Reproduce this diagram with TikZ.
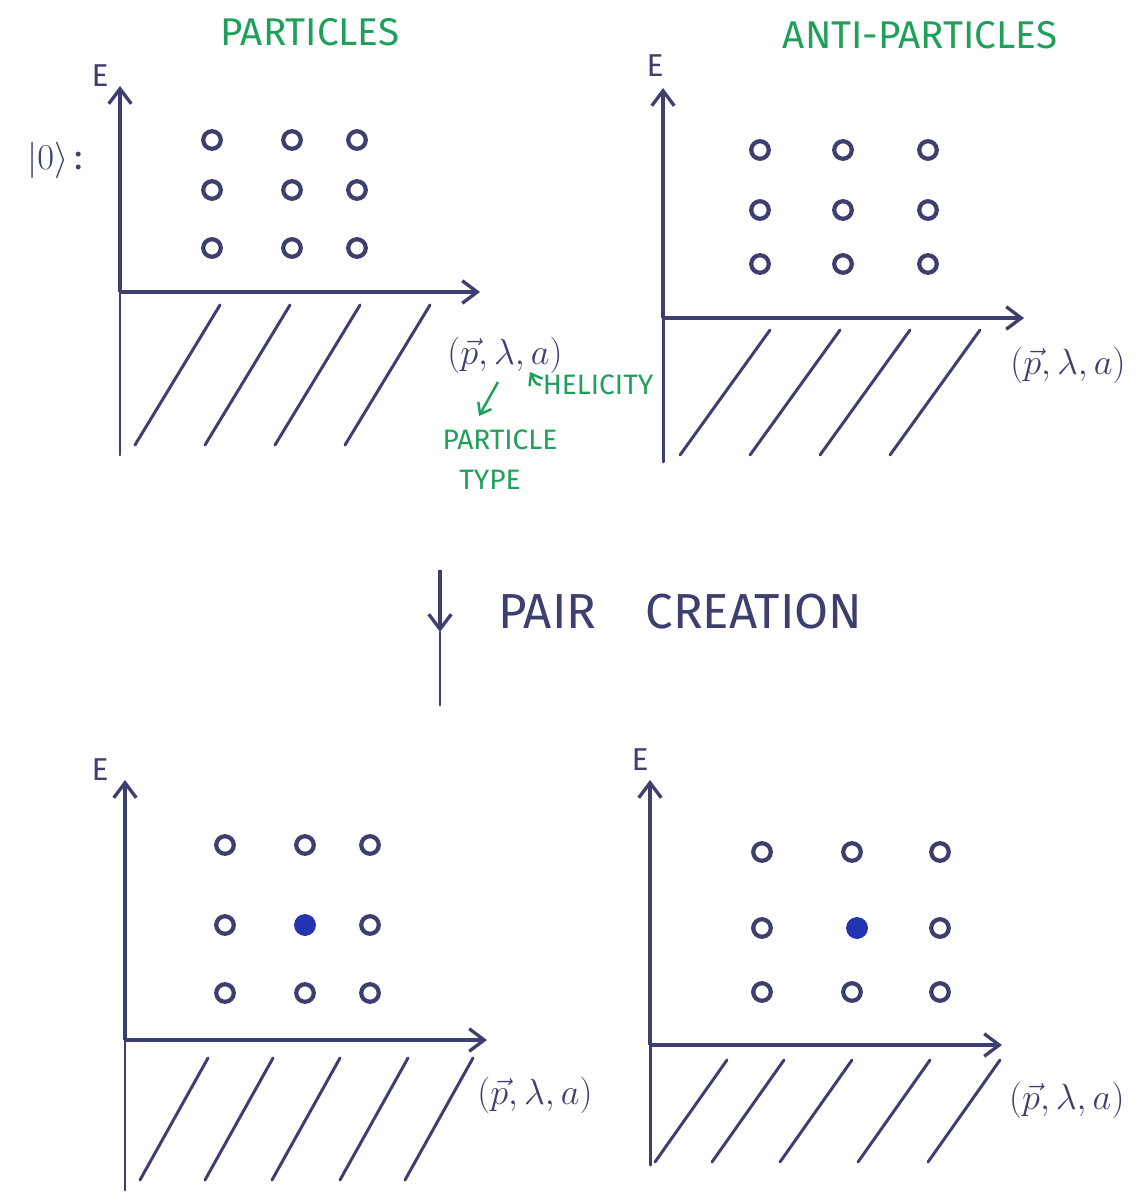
\documentclass[tikz,border=0pt]{standalone}
\usepackage{amsmath,amssymb}
\usepackage{fontspec}
\setmainfont{Fira Sans}
\usepackage{tikz}
\usetikzlibrary{arrows.meta,positioning,calc}
\definecolor{inkblue}{HTML}{3E3F6E}
\definecolor{dotblue}{HTML}{2433B0}
\definecolor{markgreen}{HTML}{1FA05A}
\tikzset{
  axisline/.style={
    draw=inkblue,
    line width=1.9pt,
    -{Straight Barb[length=3mm,width=4.5mm]}
  },
  hatchline/.style={
    draw=inkblue,
    line width=1.7pt,
    line cap=round
  },
  emptydot/.style={
    circle,
    draw=inkblue,
    line width=2.4pt,
    minimum size=10pt,
    inner sep=0pt
  },
  fulldot/.style={
    circle,
    draw=dotblue,
    fill=dotblue,
    minimum size=12pt,
    inner sep=0pt
  },
  titlelabel/.style={
    text=markgreen,
    font=\fontsize{22}{26}\selectfont
  },
  notelabel/.style={
    text=markgreen,
    font=\fontsize{16}{18}\selectfont,
    inner sep=1pt
  },
  inklabel/.style={
    text=inkblue,
    font=\fontsize{22}{26}\selectfont
  },
  notearrow/.style={draw=markgreen, line width=1.4pt, -{Straight Barb[length=2mm,width=3mm]}}
}

\begin{document}
\begin{tikzpicture}[x=0.02cm, y=-0.02cm]
  \useasboundingbox (0,0) rectangle (1139,1193);

  % titles
  \node[titlelabel] (tpart) at (310,32) {PARTICLES};
  \node[titlelabel] (tanti) at (920,35) {ANTI-PARTICLES};

  % panel 1 : particles
  \coordinate (oa) at (120,292);
  \coordinate (ba) at (120,455);
  \coordinate (ya) at (120,86);
  \coordinate (xa) at (480,292);
  \draw[hatchline] (ba) -- (oa);
  \draw[axisline] (oa) -- (ya);
  \draw[axisline] (oa) -- (xa);
  \node[inklabel,font=\fontsize{18}{20}\selectfont] (ea) at (100,76) {E};
  \node[inklabel,font=\fontsize{20}{24}\selectfont] (vac) at (55,160) {$|0\rangle$\,:};
  \node[inklabel] (la) at (505,355) {$(\vec{p},\lambda,a)$};
  \foreach \s in {135,205,275,345}
    \draw[hatchline] (\s,445) -- (\s+85,305);
  \foreach \x [count=\i] in {212,292,357}
    \foreach \y [count=\j] in {140,190,248}
      \node[emptydot] (pa-\i-\j) at (\x,\y) {};

  % notes on the labels
  \node[notelabel] (hel) at (598,385) {HELICITY};
  \node[notelabel] (ptype) at (500,440) {PARTICLE};
  \node[notelabel] (ptype2) at (490,480) {TYPE};
  \coordinate (nta) at (498,382);
  \coordinate (ntb) at (479,416);
  \draw[notearrow] (nta) -- (ntb);
  \coordinate (lam) at (530,372);
  \draw[notearrow] (hel.west) to[out=180,in=-60] (lam);

  % panel 2 : anti-particles
  \coordinate (ob) at (663,318);
  \coordinate (bb) at (663,462);
  \coordinate (yb) at (663,88);
  \coordinate (xb) at (1024,318);
  \draw[hatchline] (bb) -- (ob);
  \draw[axisline] (ob) -- (yb);
  \draw[axisline] (ob) -- (xb);
  \node[inklabel,font=\fontsize{18}{20}\selectfont] (eb) at (655,66) {E};
  \node[inklabel] (lb) at (1068,365) {$(\vec{p},\lambda,a)$};
  \foreach \s in {680,750,820,890}
    \draw[hatchline] (\s,455) -- (\s+90,330);
  \foreach \x [count=\i] in {760,843,928}
    \foreach \y [count=\j] in {150,210,264}
      \node[emptydot] (pb-\i-\j) at (\x,\y) {};

  % pair creation
  \coordinate (pctop) at (440,570);
  \coordinate (pcmid) at (440,632);
  \coordinate (pcbot) at (440,705);
  \draw[axisline] (pctop) -- (pcmid);
  \draw[hatchline] (pcmid) -- (pcbot);
  \node[inklabel,font=\fontsize{28}{32}\selectfont,anchor=west] (pc) at (492,612) {PAIR\quad CREATION};

  % panel 3
  \coordinate (oc) at (125,1040);
  \coordinate (bc) at (125,1190);
  \coordinate (yc) at (125,780);
  \coordinate (xc) at (487,1040);
  \draw[hatchline] (bc) -- (oc);
  \draw[axisline] (oc) -- (yc);
  \draw[axisline] (oc) -- (xc);
  \node[inklabel,font=\fontsize{18}{20}\selectfont] (ec) at (100,770) {E};
  \node[inklabel] (lc) at (535,1095) {$(\vec{p},\lambda,a)$};
  \foreach \s in {140,205,272,340,405}
    \draw[hatchline] (\s,1180) -- (\s+68,1058);
  \foreach \x/\y [count=\k] in {225/845,305/845,370/845,225/925,370/925,225/993,305/993,370/993}
    \node[emptydot] (pc-\k) at (\x,\y) {};
  \node[fulldot] (pc-mid) at (305,925) {};

  % panel 4
  \coordinate (od) at (650,1045);
  \coordinate (bd) at (650,1165);
  \coordinate (yd) at (650,780);
  \coordinate (xd) at (1002,1045);
  \draw[hatchline] (bd) -- (od);
  \draw[axisline] (od) -- (yd);
  \draw[axisline] (od) -- (xd);
  \node[inklabel,font=\fontsize{18}{20}\selectfont] (ed) at (640,760) {E};
  \node[inklabel,anchor=west] (ld) at (1003,1100) {$(\vec{p},\lambda,a)$};
  \foreach \s in {655,712,780,858,928}
    \draw[hatchline] (\s,1162) -- (\s+72,1060);
  \foreach \x/\y [count=\k] in {762/852,852/852,940/852,762/928,940/928,762/992,852/992,940/992}
    \node[emptydot] (pd-\k) at (\x,\y) {};
  \node[fulldot] (pd-mid) at (857,928) {};
\end{tikzpicture}
\end{document}
